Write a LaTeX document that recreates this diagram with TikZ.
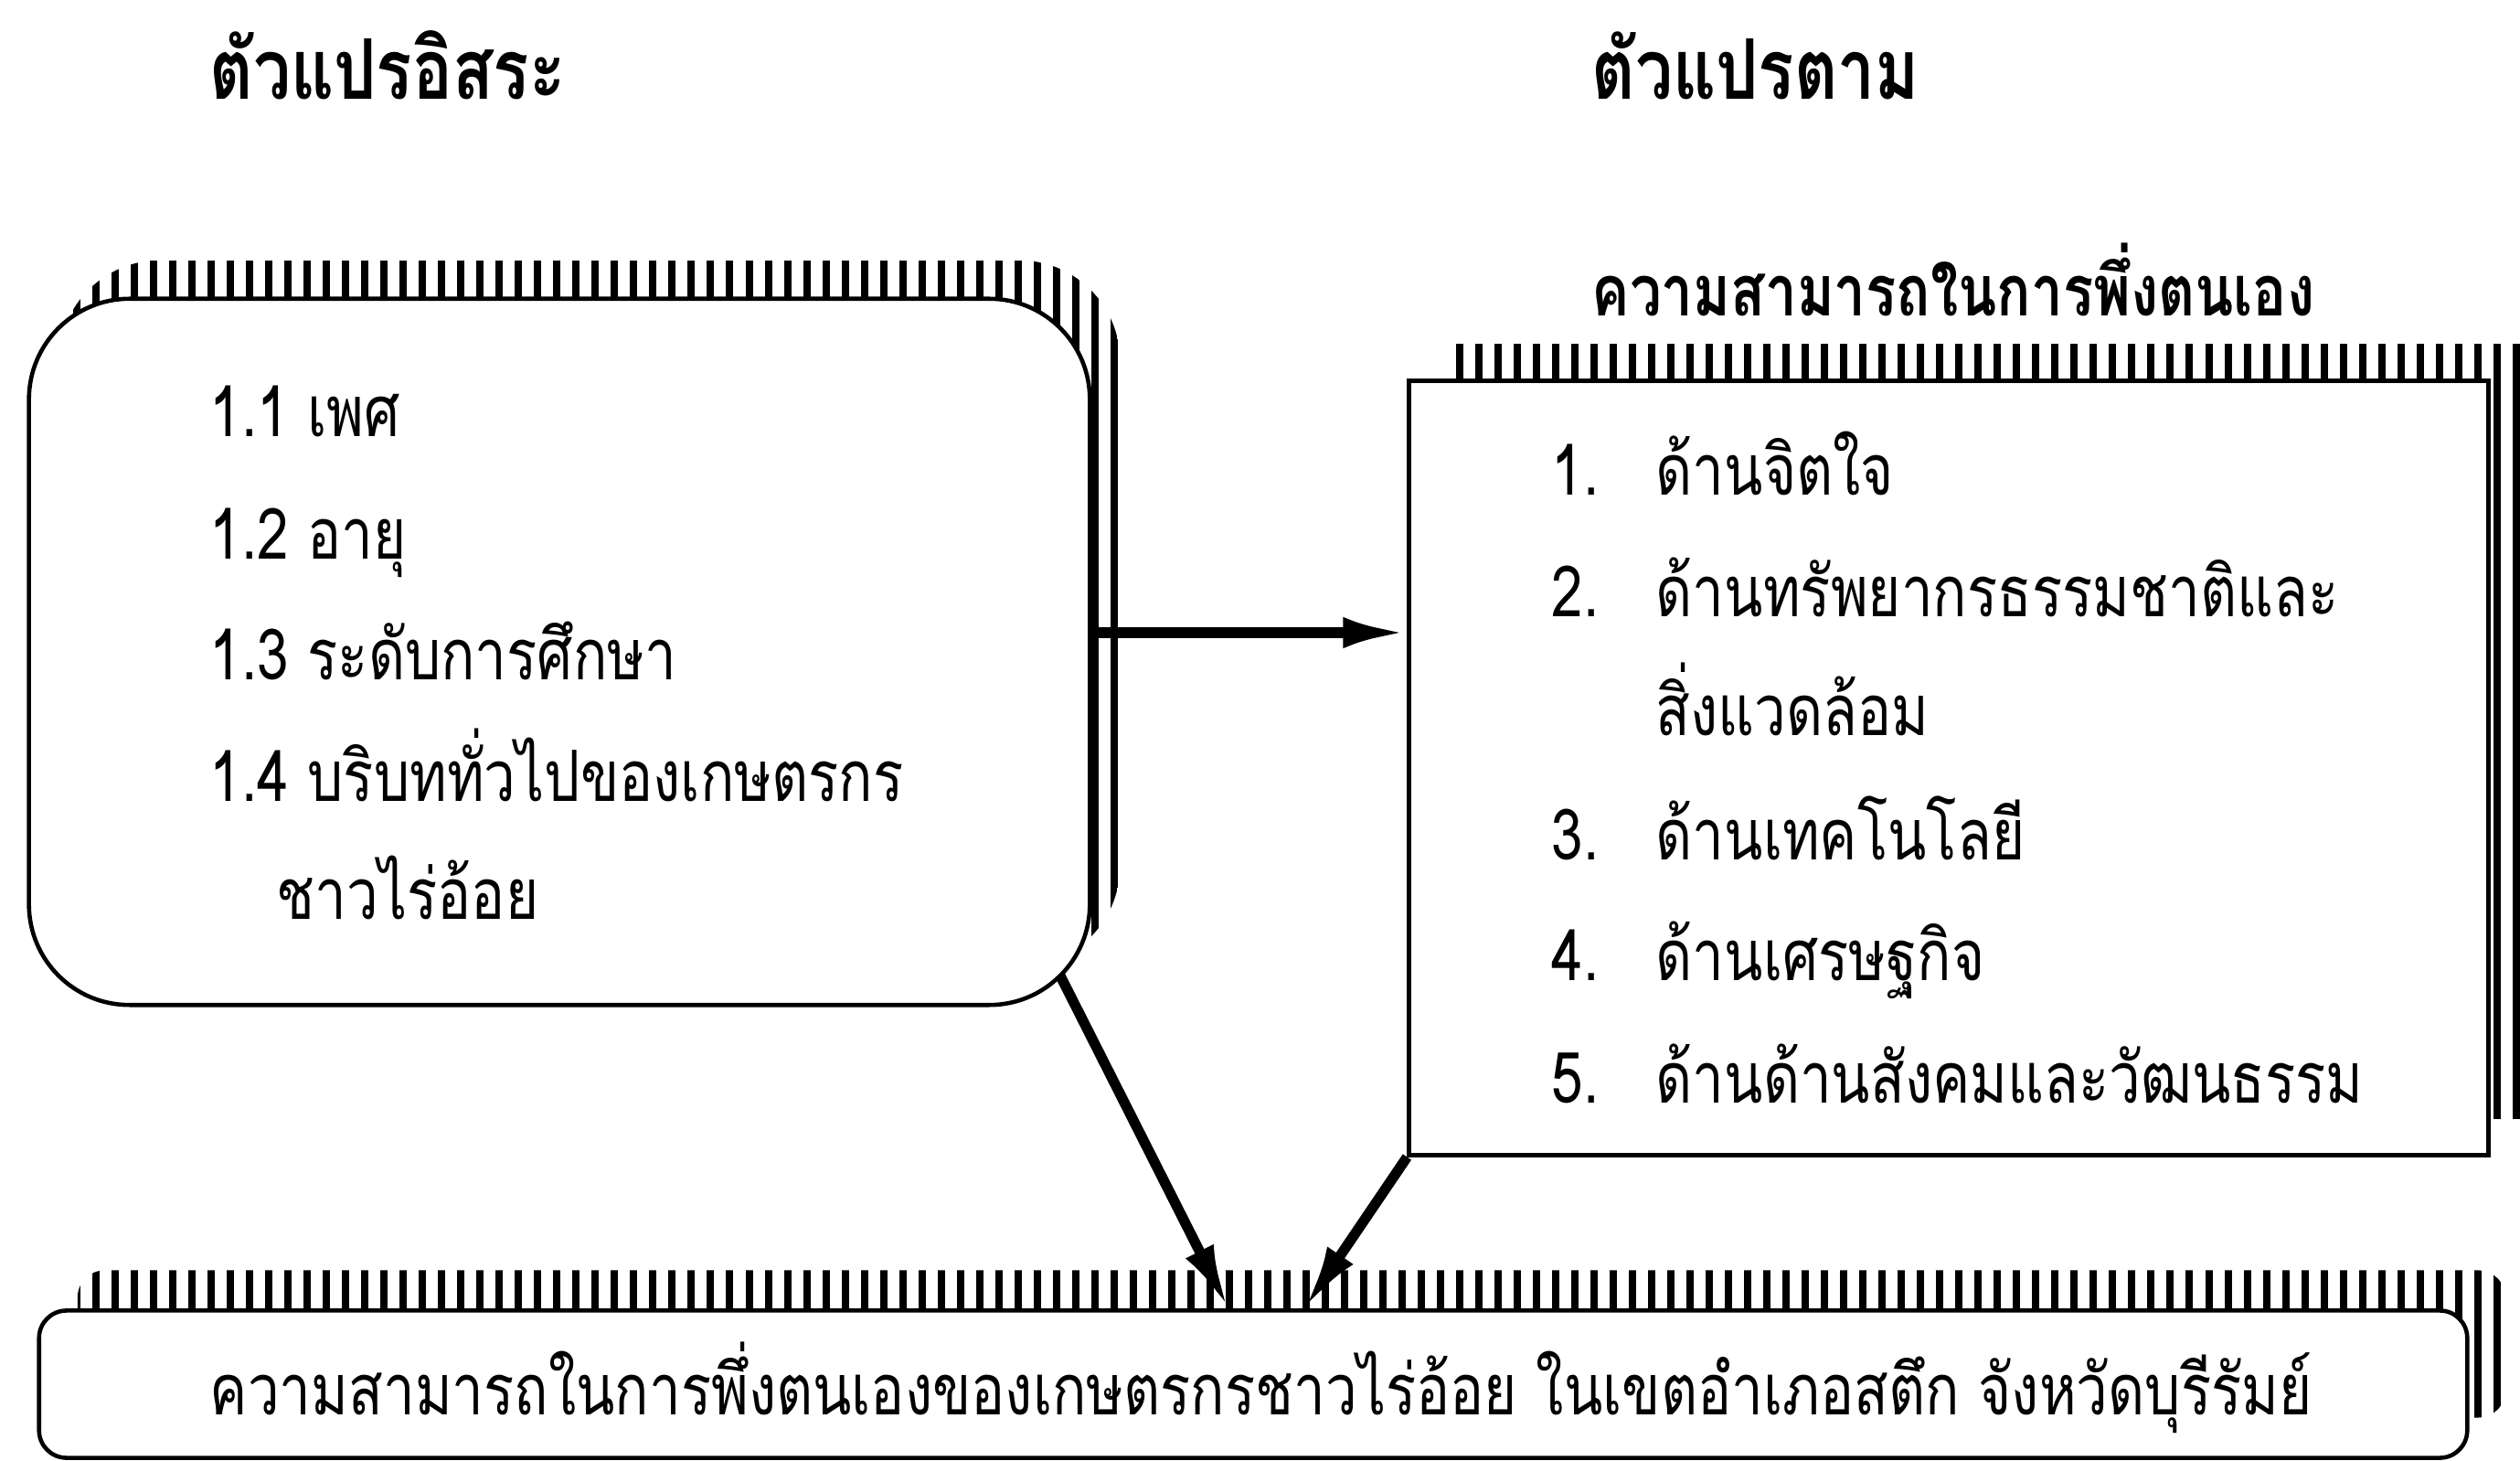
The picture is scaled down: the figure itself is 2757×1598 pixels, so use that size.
\documentclass[tikz,border=0pt]{standalone}
\usepackage{fontspec}
\newfontfamily\thaifont[Script=Thai,FakeStretch=0.8]{Loma}
\usetikzlibrary{arrows.meta,shadows,patterns.meta}

\begin{document}
\begin{tikzpicture}[x=0.01cm,y=-0.01cm,
	font=\thaifont\fontsize{22}{26}\selectfont,
	hatch/.style={pattern={Lines[angle=90,distance=0.21cm,line width=0.08cm]}},
	box/.style={draw,line width=1.3pt,fill=white,inner sep=0pt},
	item/.style={anchor=base west,inner sep=0pt},
	head/.style={item,font=\thaifont\bfseries\fontsize{26}{30}\selectfont},
	link/.style={line width=3.2pt,-{Latex[length=0.7cm,width=0.34cm]}}]

	\useasboundingbox (0,0) rectangle (2757,1598);

	%% titles
	\node [head] (tiv) at (229,109) {ตัวแปรอิสระ};
	\node [head] (tdv) at (1741,109) {ตัวแปรตาม};
	\node [head,font=\thaifont\bfseries\fontsize{22}{26}\selectfont] (tdvsub) at (1741,346) {ความสามารถในการพึ่งตนเอง};

	%% boxes with hatched shadow
	\node [box,rounded corners=1.1cm,minimum width=11.6cm,minimum height=7.72cm,
		general shadow={hatch,shadow xshift=0.33cm,shadow yshift=0.42cm}] (indep) at (612,713) {};
	\node [box,minimum width=11.8cm,minimum height=8.46cm,
		general shadow={hatch,shadow xshift=0.4cm,shadow yshift=0.4cm}] (dep) at (2132,840) {};
	\node [box,rounded corners=0.3cm,minimum width=26.55cm,minimum height=1.61cm,
		general shadow={hatch,shadow xshift=0.42cm,shadow yshift=0.44cm}] (res) at (1371,1514) {};

	%% left list
	\node [item] (i1) at (229,478) {1.1 เพศ};
	\node [item] (i2) at (229,612) {1.2 อายุ};
	\node [item] (i3) at (229,744) {1.3 ระดับการศึกษา};
	\node [item] (i4) at (229,877) {1.4 บริบททั่วไปของเกษตรกร};
	\node [item] (i4b) at (302,1006) {ชาวไร่อ้อย};

	%% right list
	\foreach \n/\y/\t in {1/542/ด้านจิตใจ, 2/675/ด้านทรัพยากรธรรมชาติและ,
		3/941/ด้านเทคโนโลยี, 4/1073/ด้านเศรษฐกิจ, 5/1206/ด้านด้านสังคมและวัฒนธรรม}{
		\node [item] (n\n) at (1697,\y) {\n.};
		\node [item] (d\n) at (1811,\y) {\t};
	}
	\node [item] (d2b) at (1811,805) {สิ่งแวดล้อม};

	%% result
	\node [item] (rtext) at (229,1547) {ความสามารถในการพึ่งตนเองของเกษตรกรชาวไร่อ้อย ในเขตอำเภอสตึก จังหวัดบุรีรัมย์};

	%% arrows
	\draw [link] ([yshift=0.21cm]indep.east) -- ([yshift=0.21cm]indep.east -| dep.west);
	\draw [link] ([xshift=-0.35cm,yshift=0.35cm]indep.south east) -- ([xshift=-0.27cm]res.north);
	\draw [link] (dep.south west) -- ([xshift=0.56cm]res.north);

\end{tikzpicture}
\end{document}
